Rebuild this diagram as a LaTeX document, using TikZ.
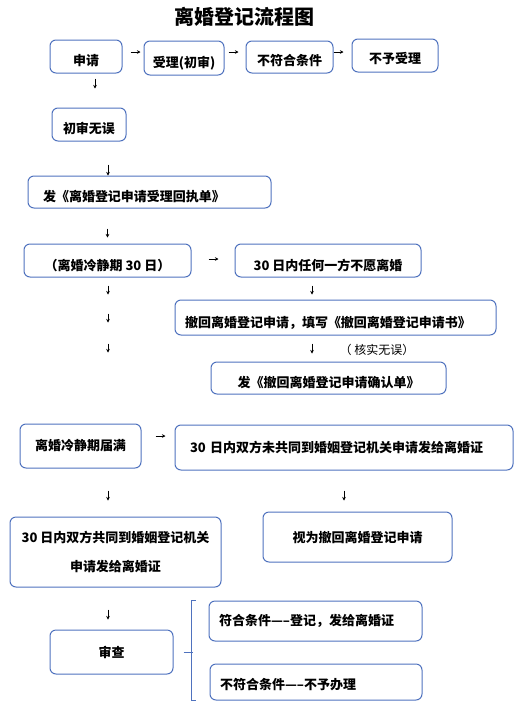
\documentclass[tikz,border=0pt]{standalone}
\usepackage{fontspec}
\setmainfont{Noto Sans CJK SC}
\usetikzlibrary{arrows.meta}
\definecolor{boxblue}{RGB}{79,114,190}
\tikzset{
    box/.style = {
        draw=boxblue,
        shape=rectangle,
        rounded corners=6pt,
        line width=1pt,
        inner xsep=0pt,
        font=\bfseries\fontsize{13}{15}\selectfont
    },
    lbox/.style = {
        box,
        align=left,
        inner xsep=#1
    },
    low/.style = {
        text height=#1,
        text depth=2pt
    },
    low/.default=20pt,
    bracket/.style = {
        draw=boxblue,
        line width=1pt
    },
    >={Stealth[length=3.5pt,width=3.5pt]},
}

\begin{document}
\begin{tikzpicture}[x=1pt,y=-1pt,line width=0.7pt]
            \useasboundingbox (0,0) rectangle (529,713);

            \node[font=\bfseries\fontsize{20}{22}\selectfont] (title) at (244,17) {离婚登记流程图};

            \node[box, low, minimum width=72pt, minimum height=33pt] (shen_qing) at (86,56.5) {申请};
            \node[box, low, minimum width=80pt, minimum height=34pt] (shou_li) at (184,58) {受理(初审)};
            \node[box, low=18pt, minimum width=87pt, minimum height=32pt] (bu_fuhe) at (289.5,57) {不符合条件};
            \node[box, low=18pt, minimum width=86pt, minimum height=33pt] (bu_yu) at (395,55.5) {不予受理};

            \node[box, low, minimum width=74pt, minimum height=33pt] (chu_shen) at (89,124.5) {初审无误};
            \node[lbox=15pt, low=21pt, text width=213pt, minimum height=32pt] (hui_zhi) at (149.5,192) {发《离婚登记申请受理回执单》};

            \node[box, low=22pt, minimum width=167pt, minimum height=33pt] (leng_jing) at (107.5,260.5) {（离婚冷静期 30 日）};
            \node[box, low=22pt, minimum width=186pt, minimum height=33pt] (ren_he) at (328,260.5) {30 日内任何一方不愿离婚};
            \node[lbox=10pt, low=21pt, text width=301pt, minimum height=35pt] (che_hui) at (335.5,317.5) {撤回离婚登记申请，填写《撤回离婚登记申请书》};
            \node[font=\fontsize{12}{14}\selectfont] (he_shi) at (377,350) {（ 核实无误）};
            \node[box, low, minimum width=235pt, minimum height=32pt] (que_ren) at (328.5,378) {发《撤回离婚登记申请确认单》};

            \node[box, minimum width=121pt, minimum height=44pt] (jie_man) at (80.5,446) {离婚冷静期届满};
            \node[lbox=15pt, text width=308pt, minimum height=45pt] (wei_gong) at (344,447.5) {30 日内双方未共同到婚姻登记机关申请发给离婚证};

            \node[box, align=center, minimum width=211pt, minimum height=70pt, font=\bfseries\fontsize{13}{29}\selectfont] (gong_tong) at (115.5,552) {30 日内双方共同到婚姻登记机关\\申请发给离婚证};
            \node[box, minimum width=189pt, minimum height=50pt] (shi_wei) at (357.5,537) {视为撤回离婚登记申请};

            \node[box, minimum width=123pt, minimum height=44pt] (shen_cha) at (111.5,652) {审查};
            \node[lbox=10pt, text width=193pt, minimum height=40pt] (fu_he) at (315.5,621) {符合条件-----登记，发给离婚证};
            \node[lbox=10pt, low=17pt, text width=192pt, minimum height=36pt] (bu_fu) at (316,682) {不符合条件-----不予办理};


            \path[draw, ->] ([yshift=4.5pt]shen_qing.east) ++(8,0) -- ++(10,0);
            \path[draw, ->] ([yshift=6pt]shou_li.east) ++(4,0) -- ++(10,0);
            \path[draw, ->] ([yshift=5pt]bu_fuhe.east) -- ++(10,0);

            \path[draw, ->] (shen_qing.south) ++(9,5) -- ++(0,10);
            \path[draw, ->] (chu_shen.south) ++(19,23) -- ++(0,11);
            \path[draw, ->] (hui_zhi.south -| leng_jing.north) ++(0,20) -- ++(0,9);

            \path[draw, ->] ([yshift=1.5pt]leng_jing.east) ++(17,0) -- ++(10,0);
            \path[draw, ->] (ren_he.south) ++(-16,8) -- ++(0,9);
            \foreach \dy in {8,36,66}
                \path[draw, ->] (leng_jing.south) ++(0.5,\dy) -- ++(0,9);
            \path[draw, ->] (che_hui.south) ++(-23.5,8) -- ++(0,10);

            \path[draw, ->] ([yshift=10pt]jie_man.east) ++(14,0) -- ++(10,0);
            \path[draw, ->] (jie_man.south) ++(27.5,22) -- ++(0,10);
            \path[draw, ->] (wei_gong.south) ++(0,20) -- ++(0,10);
            \path[draw, ->] (gong_tong.south) ++(-7.5,22) -- ++(0,10);

            % bracket between shen_cha and the two results
            \path[bracket] ([xshift=-13pt]fu_he.north west) -- ([xshift=-17pt]fu_he.north west)
                -- ([xshift=-17pt]fu_he.north west |- bu_fu.south) -- ++(4,0);
            \path[bracket] ([xshift=10pt]shen_cha.east) -- ++(9,0);

        \end{tikzpicture}
\end{document}
